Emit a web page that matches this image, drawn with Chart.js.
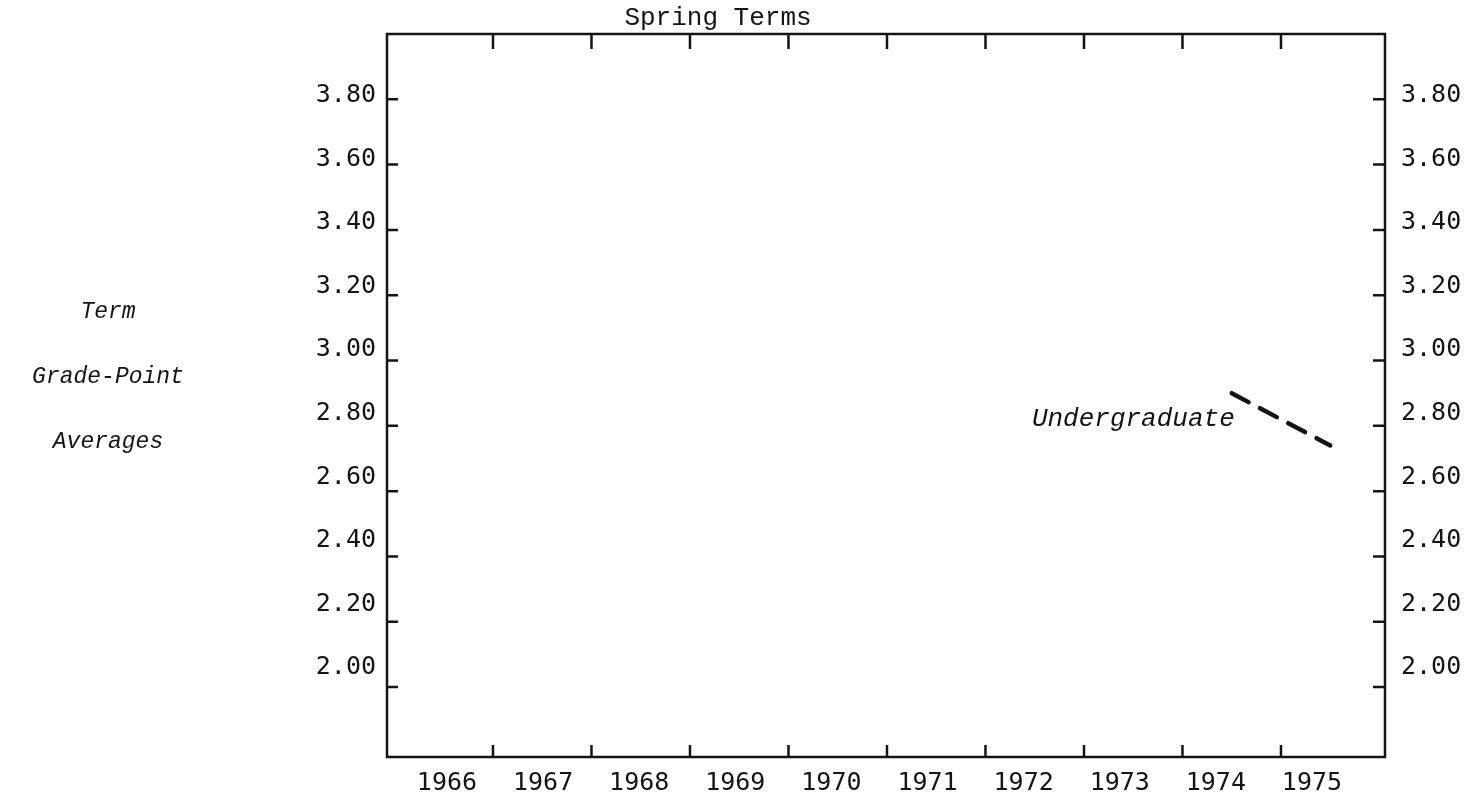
<!DOCTYPE html>
<html>
<head>
<meta charset="utf-8">
<title>Spring Terms</title>
<script src="https://cdn.jsdelivr.net/npm/chart.js@4.4.1/dist/chart.umd.min.js"></script>
<style>
  html, body { margin: 0; padding: 0; background: #fff; }
  #wrap { width: 1484px; height: 798px; }
</style>
</head>
<body>
<div id="wrap"><canvas id="gpaChart" width="1484" height="798"></canvas></div>
<script>
// Term grade-point averages by spring term, 1966-1975

var years = [1966, 1967, 1968, 1969, 1970, 1971, 1972, 1973, 1974, 1975];
var gpaTicks = [2.00, 2.20, 2.40, 2.60, 2.80, 3.00, 3.20, 3.40, 3.60, 3.80];
var undergradYears = [1974, 1975];
var undergradGpa = [2.90, 2.74];
var yTitleLines = ['Term', 'Grade-Point', 'Averages'];
var seriesLabel = 'Undergraduate';
var headerText = 'Spring Terms';

var INK = '#141414';
var tickFont = { family: '"DejaVu Sans Mono", monospace', size: 25 };

function yearLabel(value) {
  return String(value);
}

function gpaLabel(value) {
  return Number(value).toFixed(2);
}

function setYearTicks(scale) {
  scale.ticks = years.map(function (y) { return { value: y }; });
}

function setGpaTicks(scale) {
  scale.ticks = gpaTicks.map(function (v) { return { value: v }; });
}

// boxed frame with inward tick marks, plus the free text labels
var frameTicks = {
  id: 'frameTicks',
  afterDatasetsDraw: function (chart) {
    var ctx = chart.ctx;
    var area = chart.chartArea;
    var xs = chart.scales.xg;
    var ys = chart.scales.gpa;
    var i, px, py;

    ctx.save();
    ctx.strokeStyle = INK;
    ctx.lineWidth = 2.5;
    ctx.lineCap = 'butt';
    ctx.strokeRect(area.left, area.top, area.right - area.left, area.bottom - area.top);

    ctx.beginPath();
    for (i = 0; i < years.length - 1; i++) {
      px = xs.getPixelForValue(years[i] + 0.5);
      ctx.moveTo(px, area.top);
      ctx.lineTo(px, area.top + 15);
      ctx.moveTo(px, area.bottom);
      ctx.lineTo(px, area.bottom - 12);
    }
    for (i = 0; i < gpaTicks.length; i++) {
      py = ys.getPixelForValue(gpaTicks[i]);
      ctx.moveTo(area.left, py);
      ctx.lineTo(area.left + 11, py);
      ctx.moveTo(area.right, py);
      ctx.lineTo(area.right - 12, py);
    }
    ctx.stroke();

    ctx.fillStyle = INK;
    ctx.textBaseline = 'alphabetic';

    ctx.font = '26px "Liberation Mono", monospace';
    ctx.textAlign = 'center';
    ctx.fillText(headerText, area.left + 331, area.top - 9);

    ctx.font = 'italic 23px "Liberation Mono", monospace';
    for (i = 0; i < yTitleLines.length; i++) {
      ctx.fillText(yTitleLines[i], 108, area.top + 284 + i * 65);
    }

    var first = chart.getDatasetMeta(0).data[0];
    ctx.font = 'italic 26px "Liberation Mono", monospace';
    ctx.textAlign = 'right';
    ctx.fillText(seriesLabel, first.x + 3, first.y + 33);
    ctx.restore();
  }
};

var points = undergradYears.map(function (yr, i) {
  return { x: yr, y: undergradGpa[i] };
});

new Chart(document.getElementById('gpaChart').getContext('2d'), {
  type: 'line',
  data: {
    datasets: [{
      label: seriesLabel,
      data: points,
      xAxisID: 'xg',
      yAxisID: 'gpa',
      borderColor: INK,
      borderWidth: 4.5,
      borderDash: [19, 13],
      borderCapStyle: 'round',
      pointRadius: 0,
      tension: 0,
      fill: false
    }]
  },
  options: {
    responsive: false,
    animation: false,
    layout: { padding: { top: 34, left: 0, right: 0, bottom: 0 } },
    plugins: {
      legend: { display: false },
      tooltip: { enabled: false },
      title: { display: false }
    },
    scales: {
      xg: { type: 'linear', display: false, min: 1965.424, max: 1975.556 },
      gpa: { type: 'linear', display: false, min: 1.786, max: 4.0 },
      x: {
        type: 'linear',
        position: 'bottom',
        min: 1965.376,
        max: 1975.76,
        afterBuildTicks: setYearTicks,
        afterFit: function (scale) { scale.height = 41; },
        grid: { display: false, drawTicks: false },
        border: { display: false },
        ticks: { font: tickFont, color: INK, padding: 11, maxRotation: 0, autoSkip: false, callback: yearLabel }
      },
      y: {
        type: 'linear',
        position: 'left',
        min: 1.72,
        max: 3.993,
        afterBuildTicks: setGpaTicks,
        afterFit: function (scale) { scale.width = 387; },
        grid: { display: false, drawTicks: false },
        border: { display: false },
        ticks: { font: tickFont, color: INK, padding: 11, autoSkip: false, callback: gpaLabel }
      },
      yRight: {
        type: 'linear',
        position: 'right',
        min: 1.72,
        max: 3.993,
        afterBuildTicks: setGpaTicks,
        afterFit: function (scale) { scale.width = 99; },
        grid: { display: false, drawTicks: false },
        border: { display: false },
        ticks: { font: tickFont, color: INK, padding: 16, autoSkip: false, callback: gpaLabel }
      }
    }
  },
  plugins: [frameTicks]
});
</script>
</body>
</html>
